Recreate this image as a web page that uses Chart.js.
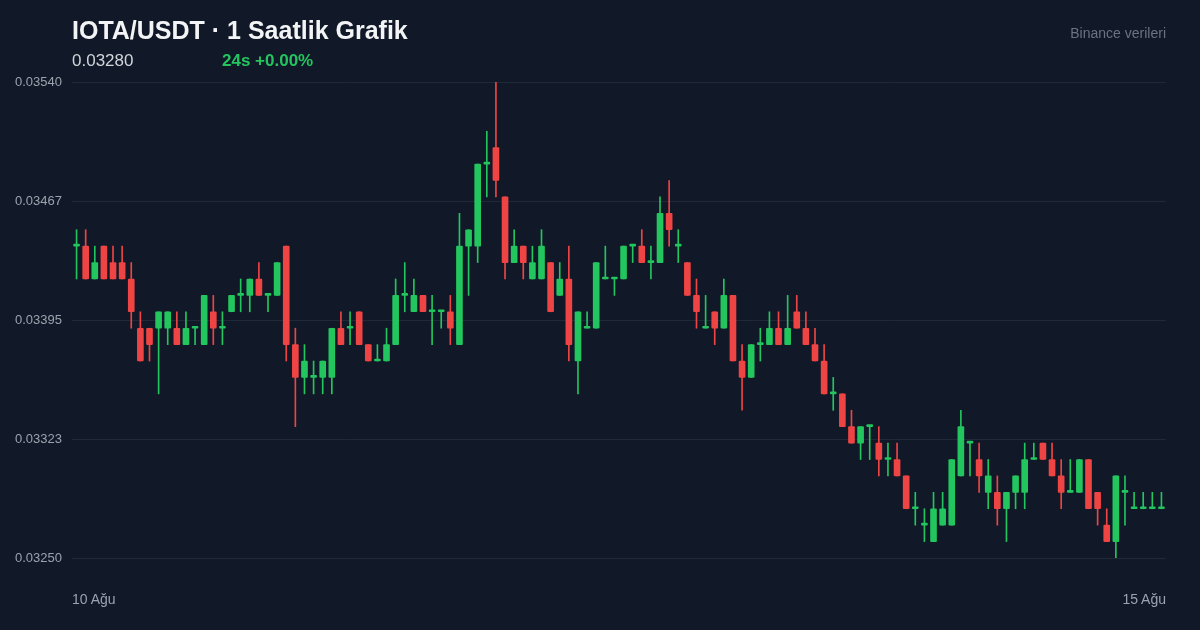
<!DOCTYPE html>
<html><head><meta charset="utf-8">
<script src="https://cdn.jsdelivr.net/npm/chart.js@4.4.1/dist/chart.umd.min.js"></script>
<style>
html,body{margin:0;padding:0;background:#111827;width:1200px;height:630px;overflow:hidden;font-family:"Liberation Sans",Arial,sans-serif}
#wrap{position:absolute;left:0;top:0;width:1200px;height:630px}
.t{position:absolute;white-space:nowrap}
</style></head><body>
<div id="wrap"><canvas id="c" width="1200" height="630"></canvas></div>
<div class="t" style="left:72px;top:16px;font-size:25px;font-weight:bold;color:#f3f4f6">IOTA/USDT · 1 Saatlik Grafik</div>
<div class="t" style="left:72px;top:51px;font-size:17px;color:#d1d5db">0.03280</div>
<div class="t" style="left:222px;top:51px;font-size:17px;font-weight:bold;color:#22c55e">24s +0.00%</div>
<div class="t" style="right:34px;top:25px;font-size:14px;color:#6b7280">Binance verileri</div>
<div class="t" style="left:72px;top:591px;font-size:14px;color:#9ca3af">10 Ağu</div>
<div class="t" style="right:34px;top:591px;font-size:14px;color:#9ca3af">15 Ağu</div>
<script>
const opens  = [0.0344,0.0344,0.0342,0.0344,0.0343,0.0343,0.0342,0.0339,0.0339,0.0339,0.0339,0.0339,0.0338,0.0339,0.0338,0.0340,0.0339,0.0340,0.0341,0.0341,0.0342,0.0341,0.0341,0.0344,0.0338,0.0336,0.0336,0.0336,0.0336,0.0339,0.0339,0.0340,0.0338,0.0337,0.0337,0.0338,0.0341,0.0340,0.0341,0.0340,0.0340,0.0340,0.0338,0.0344,0.0344,0.0349,0.0350,0.0347,0.0343,0.0344,0.0342,0.0342,0.0343,0.0341,0.0342,0.0337,0.0339,0.0339,0.0342,0.0342,0.0342,0.0344,0.0344,0.0343,0.0343,0.0346,0.0344,0.0343,0.0341,0.0339,0.0340,0.0339,0.0341,0.0337,0.0336,0.0338,0.0338,0.0339,0.0338,0.0340,0.0339,0.0338,0.0337,0.0335,0.0335,0.0333,0.0332,0.0333,0.0332,0.0331,0.0331,0.0330,0.0328,0.0327,0.0326,0.0327,0.0327,0.0330,0.0332,0.0331,0.0329,0.0329,0.0328,0.0329,0.0329,0.0331,0.0332,0.0331,0.0330,0.0329,0.0329,0.0331,0.0329,0.0327,0.0326,0.0329,0.0328,0.0328,0.0328,0.0328];
const highs  = [0.0345,0.0345,0.0344,0.0344,0.0344,0.0344,0.0343,0.0340,0.0339,0.0340,0.0340,0.0340,0.0340,0.0339,0.0341,0.0341,0.0340,0.0341,0.0342,0.0342,0.0343,0.0341,0.0343,0.0344,0.0339,0.0338,0.0337,0.0337,0.0339,0.0340,0.0340,0.0340,0.0338,0.0338,0.0339,0.0342,0.0343,0.0342,0.0341,0.0341,0.0340,0.0341,0.0346,0.0345,0.0349,0.0351,0.0354,0.0347,0.0345,0.0344,0.0344,0.0345,0.0343,0.0343,0.0344,0.0340,0.0340,0.0343,0.0344,0.0342,0.0344,0.0344,0.0345,0.0344,0.0347,0.0348,0.0345,0.0343,0.0342,0.0341,0.0340,0.0342,0.0341,0.0338,0.0338,0.0339,0.0340,0.0340,0.0341,0.0341,0.0340,0.0339,0.0338,0.0336,0.0335,0.0334,0.0333,0.0333,0.0333,0.0332,0.0332,0.0330,0.0329,0.0328,0.0329,0.0329,0.0331,0.0334,0.0332,0.0332,0.0331,0.0330,0.0329,0.0330,0.0332,0.0332,0.0332,0.0332,0.0331,0.0331,0.0331,0.0331,0.0329,0.0328,0.0330,0.0330,0.0329,0.0329,0.0329,0.0329];
const lows   = [0.0342,0.0342,0.0342,0.0342,0.0342,0.0342,0.0339,0.0337,0.0337,0.0335,0.0338,0.0338,0.0338,0.0338,0.0338,0.0338,0.0338,0.0340,0.0340,0.0340,0.0341,0.0340,0.0341,0.0337,0.0333,0.0335,0.0335,0.0335,0.0335,0.0338,0.0338,0.0338,0.0337,0.0337,0.0337,0.0338,0.0340,0.0340,0.0340,0.0338,0.0339,0.0338,0.0338,0.0341,0.0343,0.0347,0.0347,0.0342,0.0343,0.0342,0.0342,0.0342,0.0340,0.0341,0.0337,0.0335,0.0339,0.0339,0.0342,0.0341,0.0342,0.0343,0.0343,0.0342,0.0343,0.0344,0.0343,0.0341,0.0339,0.0339,0.0338,0.0339,0.0337,0.0334,0.0336,0.0337,0.0338,0.0338,0.0338,0.0339,0.0338,0.0337,0.0335,0.0334,0.0333,0.0332,0.0331,0.0331,0.0330,0.0330,0.0330,0.0328,0.0327,0.0326,0.0326,0.0327,0.0327,0.0330,0.0330,0.0329,0.0328,0.0327,0.0326,0.0328,0.0328,0.0331,0.0331,0.0330,0.0328,0.0329,0.0329,0.0328,0.0327,0.0326,0.0325,0.0327,0.0328,0.0328,0.0328,0.0328];
const closes = [0.0344,0.0342,0.0343,0.0342,0.0342,0.0342,0.0340,0.0337,0.0338,0.0340,0.0340,0.0338,0.0339,0.0339,0.0341,0.0339,0.0339,0.0341,0.0341,0.0342,0.0341,0.0341,0.0343,0.0338,0.0336,0.0337,0.0336,0.0337,0.0339,0.0338,0.0339,0.0338,0.0337,0.0337,0.0338,0.0341,0.0341,0.0341,0.0340,0.0340,0.0340,0.0339,0.0344,0.0345,0.0349,0.0349,0.0348,0.0343,0.0344,0.0343,0.0343,0.0344,0.0340,0.0342,0.0338,0.0340,0.0339,0.0343,0.0342,0.0342,0.0344,0.0344,0.0343,0.0343,0.0346,0.0345,0.0344,0.0341,0.0340,0.0339,0.0339,0.0341,0.0337,0.0336,0.0338,0.0338,0.0339,0.0338,0.0339,0.0339,0.0338,0.0337,0.0335,0.0335,0.0333,0.0332,0.0333,0.0333,0.0331,0.0331,0.0330,0.0328,0.0328,0.0327,0.0328,0.0328,0.0331,0.0333,0.0332,0.0330,0.0330,0.0328,0.0329,0.0330,0.0331,0.0331,0.0331,0.0330,0.0329,0.0329,0.0331,0.0328,0.0328,0.0326,0.0330,0.0329,0.0328,0.0328,0.0328,0.0328];
const categories = opens.map((_, i) => 'h' + i);
const yTickValues = [0.0325, 0.033225, 0.03395, 0.034675, 0.0354];
const yTickLabels = ['0.03250', '0.03323', '0.03395', '0.03467', '0.03540'];

const UP = '#22c55e', DOWN = '#ef4444';
const col = opens.map((o, i) => closes[i] >= o ? UP : DOWN);
new Chart(document.getElementById('c'), {
  type: 'bar',
  data: {
    labels: categories,
    datasets: [
      { data: opens.map((o, i) => [Math.min(o, closes[i]), Math.max(o, closes[i])]),
        backgroundColor: col, barThickness: 6, minBarLength: 2, borderRadius: 1, borderSkipped: false, grouped: false, order: 0 },
      { data: lows.map((l, i) => [l, highs[i]]),
        backgroundColor: col, barThickness: 1, grouped: false, order: 1 }
    ]
  },
  options: {
    responsive: false, animation: false, devicePixelRatio: 1,
    layout: { padding: { top: 82, bottom: 72, right: 34, left: 0 } },
    plugins: { legend: { display: false }, tooltip: { enabled: false } },
    scales: {
      x: { display: false, offset: true },
      y: {
        min: 0.0325, max: 0.0354,
        afterBuildTicks: s => { s.ticks = yTickValues.map(v => ({ value: v })); },
        afterFit: s => { s.width = 72; },
        ticks: { color: '#9ca3af', font: { size: 13, family: '"Liberation Sans", Arial, sans-serif' }, padding: 10,
          callback: (v, i) => yTickLabels[i] },
        grid: { color: '#1f2937', lineWidth: 1, drawTicks: false },
        border: { display: false }
      }
    }
  }
});
</script>
</body></html>
